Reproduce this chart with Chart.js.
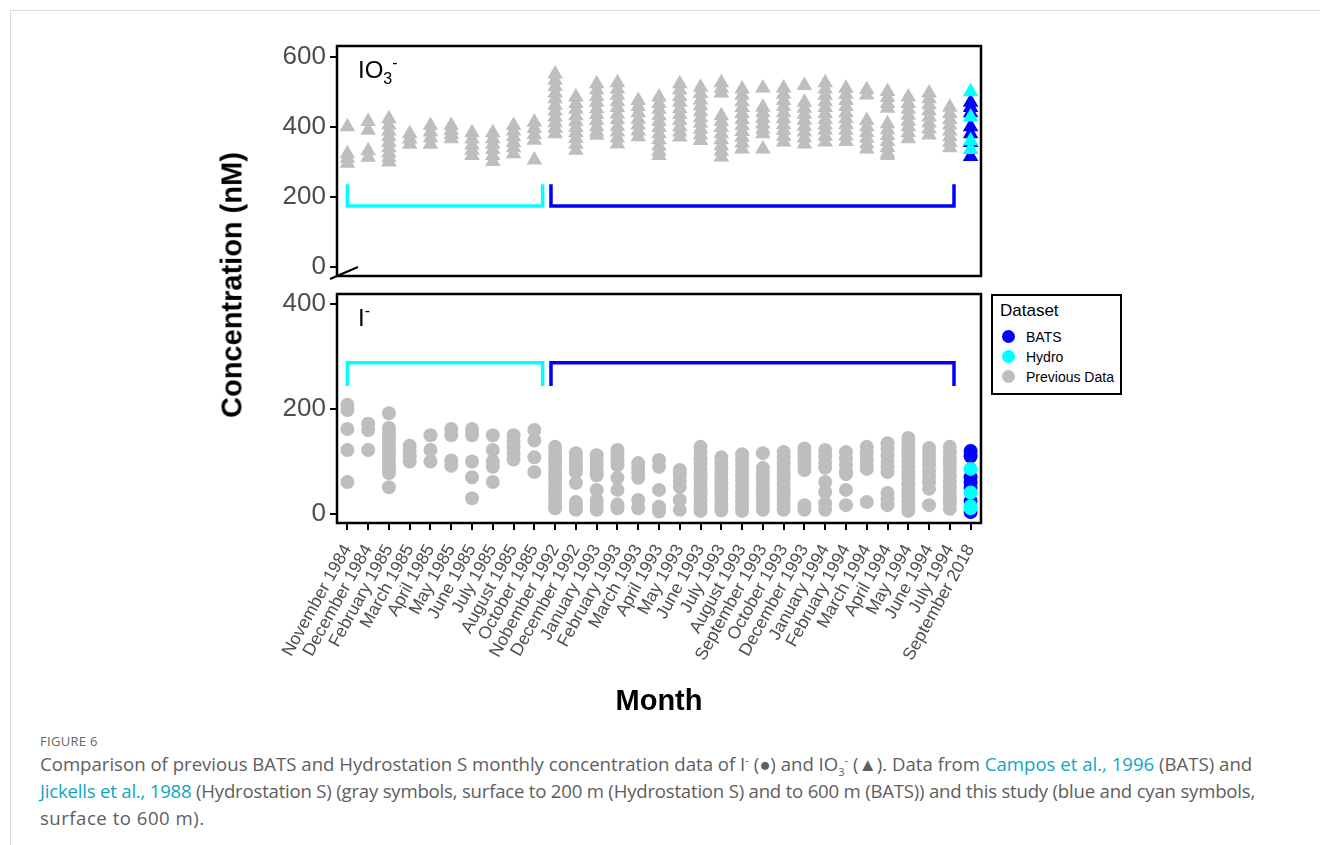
<!DOCTYPE html>
<html>
<head>
<meta charset="utf-8">
<script src="https://cdn.jsdelivr.net/npm/chart.js@4.4.1/dist/chart.umd.min.js"></script>
<style>
  html, body { margin: 0; padding: 0; background: #fff; }
  body { width: 1320px; height: 845px; position: relative; overflow: hidden; font-family: "Liberation Sans", Arial, sans-serif; }
  .abs { position: absolute; }
  #frame { left: 10px; top: 10px; width: 1320px; height: 845px; border-top: 1px solid #dcdcdc; border-left: 1px solid #dcdcdc; }
  #ytitle { left: 232px; top: 285px; transform: translate(-50%, -50%) rotate(-90deg); white-space: nowrap; font-weight: bold; font-size: 29px; color: #000; }
  #xtitle { left: 659px; top: 700px; transform: translate(-50%, -50%); white-space: nowrap; font-weight: bold; font-size: 29px; color: #000; }
  .plab { font-size: 24px; color: #000; line-height: 26px; white-space: nowrap; }
  .plab sub { font-size: 16px; vertical-align: -6px; line-height: 0; }
  .plab sup { font-size: 16px; vertical-align: 10px; line-height: 0; }
  #legend { left: 991px; top: 294px; width: 127px; height: 97px; border: 2px solid #000; background: #fff; }
  #legend .ttl { position: absolute; left: 7px; top: 5px; font-size: 17px; line-height: 20px; color: #000; }
  #legend .it { position: absolute; left: 33px; font-size: 14px; line-height: 20px; color: #000; white-space: nowrap; }
  #legend .dot { position: absolute; left: 9px; width: 13px; height: 13px; border-radius: 50%; }
  #caption { left: 40px; top: 730px; width: 1270px; font-family: "Open Sans", "Noto Sans", sans-serif; color: #5e5e5e; }
  #caption .fig { font-size: 13px; letter-spacing: 0.3px; line-height: 22px; color: #666; }
  #caption .txt { font-size: 18.6px; line-height: 27px; margin-top: -2px; white-space: nowrap; }
  #caption .l2 { letter-spacing: -0.21px; }
  #caption .l3 { letter-spacing: 0.5px; }
  #caption a { color: #10a5c4; text-decoration: none; }
  #caption sup, #caption sub { font-size: 11px; line-height: 0; }
</style>
</head>
<body>
<div id="frame" class="abs"></div>
<div class="abs" style="left:0;top:0;width:1320px;height:310px;"><canvas id="c1"></canvas></div>
<div class="abs" style="left:0;top:250px;width:1320px;height:470px;"><canvas id="c2"></canvas></div>

<div id="ytitle" class="abs">Concentration (nM)</div>
<div id="xtitle" class="abs">Month</div>
<div class="abs plab" style="left:358px;top:57px;">IO<sub>3</sub><sup>-</sup></div>
<div class="abs plab" style="left:358px;top:305px;">I<sup>-</sup></div>

<div id="legend" class="abs">
  <div class="ttl">Dataset</div>
  <div class="dot" style="top:34px;background:#0000ff;"></div><div class="it" style="top:31px;">BATS</div>
  <div class="dot" style="top:54px;background:#00ffff;"></div><div class="it" style="top:51px;">Hydro</div>
  <div class="dot" style="top:74px;background:#bebebe;"></div><div class="it" style="top:71px;">Previous Data</div>
</div>

<div id="caption" class="abs">
  <div class="fig">FIGURE 6</div>
  <div class="txt">Comparison of previous BATS and Hydrostation S monthly concentration data of I<sup>-</sup> (●) and IO<sub>3</sub><sup>-</sup> (▲). Data from <a>Campos et al., 1996</a> (BATS) and<br><span class="l2"><a>Jickells et al., 1988</a> (Hydrostation S) (gray symbols, surface to 200 m (Hydrostation S) and to 600 m (BATS)) and this study (blue and cyan symbols,</span><br><span class="l3">surface to 600 m).</span></div>
</div>

<script>
// ---------------- DATA ----------------
const months = ["November 1984", "December 1984", "February 1985", "March 1985", "April 1985", "May 1985",
  "June 1985", "July 1985", "August 1985", "October 1985", "Nobember 1992", "December 1992", "January 1993",
  "February 1993", "March 1993", "April 1993", "May 1993", "June 1993", "July 1993", "August 1993",
  "September 1993", "October 1993", "December 1993", "January 1994", "February 1994", "March 1994",
  "April 1994", "May 1994", "June 1994", "July 1994", "September 2018"];

// Previous data, iodate (IO3-), nM, one list per month (index 0..29)
const prevIodate = [
  [400, 323, 310, 296],
  [415, 390, 332, 313],
  [423, 405, 388, 372, 356, 340, 325, 312, 300],
  [380, 365, 350],
  [404, 385, 368, 350],
  [404, 390, 378, 366],
  [383, 365, 348, 333, 318],
  [383, 366, 350, 335, 318, 301],
  [404, 388, 372, 355, 340, 323],
  [413, 395, 378, 362, 305],
  [551, 533, 515, 497, 480, 462, 445, 428, 412, 396, 380],
  [485, 467, 450, 432, 415, 398, 383, 367, 350, 333],
  [523, 505, 487, 470, 452, 435, 418, 400, 385, 376],
  [526, 508, 490, 472, 455, 437, 420, 402, 385, 368, 351],
  [475, 458, 440, 422, 405, 388, 372],
  [485, 467, 450, 432, 415, 398, 380, 363, 345, 330, 318],
  [523, 505, 487, 470, 452, 435, 418, 400, 385, 371],
  [513, 495, 477, 460, 443, 426, 410, 393, 377, 361],
  [526, 510, 497, 432, 415, 398, 380, 363, 346, 330, 314],
  [508, 490, 472, 455, 438, 421, 404, 387, 370, 354, 337],
  [511, 456, 440, 424, 408, 393, 380, 337],
  [511, 493, 475, 458, 440, 423, 406, 390, 373, 357],
  [518, 470, 453, 436, 419, 402, 385, 368, 351],
  [526, 508, 490, 472, 455, 438, 421, 405, 390, 373, 357],
  [510, 493, 475, 458, 440, 423, 407, 390, 374, 358],
  [507, 491, 418, 400, 384, 368, 352, 337],
  [501, 484, 467, 453, 409, 392, 375, 358, 341, 325, 318],
  [485, 467, 450, 433, 416, 400, 383, 366],
  [497, 480, 463, 446, 428, 411, 394, 377],
  [456, 438, 421, 405, 388, 372, 356, 340]
];

// Previous data, iodide (I-), nM
const prevIodide = [
  [208, 198, 162, 122, 61],
  [172, 160, 122],
  [192, 164, 155, 146, 137, 128, 119, 110, 101, 92, 83, 78, 51],
  [130, 120, 110, 100],
  [150, 122, 100],
  [162, 150, 102, 92],
  [162, 150, 100, 70, 30],
  [150, 122, 100, 90, 61],
  [150, 138, 127, 115, 104],
  [160, 140, 108, 80],
  [128, 118, 108, 98, 88, 78, 68, 58, 48, 38, 28, 18, 11],
  [116, 106, 96, 88, 80, 59, 23, 15, 8],
  [112, 102, 92, 82, 74, 46, 27, 17, 8],
  [122, 112, 102, 93, 69, 46, 18, 11],
  [97, 88, 79, 69, 27, 11],
  [103, 90, 46, 14, 5],
  [84, 74, 63, 52, 27, 8],
  [128, 117, 106, 96, 86, 76, 66, 56, 46, 36, 26, 16, 6],
  [108, 97, 87, 77, 67, 57, 47, 37, 27, 17, 7],
  [114, 104, 94, 84, 74, 64, 54, 44, 34, 24, 14, 6],
  [116, 88, 78, 68, 58, 48, 38, 28, 18, 8],
  [118, 108, 98, 88, 78, 68, 58, 48, 38, 28, 18, 8],
  [125, 115, 105, 95, 84, 17, 8],
  [122, 110, 98, 88, 61, 42, 20, 8],
  [118, 106, 94, 82, 76, 46, 17],
  [128, 116, 104, 94, 86, 23],
  [135, 123, 111, 99, 89, 80, 40, 28, 17],
  [145, 134, 123, 112, 101, 90, 79, 68, 57, 46, 35, 24, 14, 6],
  [126, 115, 104, 93, 82, 71, 60, 48, 17],
  [128, 117, 106, 95, 84, 73, 62, 51, 40, 30, 20, 10]
];

// This study (September 2018, month index 30)
const studyMonth = 30;
const batsIodate = [470, 455, 440, 400, 380, 355, 315];
const hydroIodate = [500, 428, 360, 335];
const batsIodide = [120, 110, 70, 60, 50, 25, 4];
const hydroIodide = [86, 41, 15, 11];

// Bracket annotations in data units [xStart, xEnd, yLeg, yBar]
const brIodateHydro = [0, 9.4, 236, 174];
const brIodateBats = [9.8, 29.2, 236, 174];
const brIodideHydro = [0, 9.4, 244, 288];
const brIodideBats = [9.8, 29.2, 244, 288];

const yTicksTop = [0, 200, 400, 600];
const yTicksBot = [0, 200, 400];

// ---------------- HELPERS ----------------
function toPoints(lists) {
  const pts = [];
  lists.forEach((vals, i) => vals.forEach(v => pts.push({ x: i, y: v })));
  return pts;
}
function single(vals) { return vals.map(v => ({ x: studyMonth, y: v })); }
function bracket(b) {
  return [{ x: b[0], y: b[2] }, { x: b[0], y: b[3] }, { x: b[1], y: b[3] }, { x: b[1], y: b[2] }];
}

const GRAY = '#bebebe', BLUE = '#0000ff', CYAN = '#00ffff';
const TICKCOL = '#4d4d4d';
const FONT = '"Liberation Sans", Arial, sans-serif';

const boxPlugin = {
  id: 'panelBox',
  afterDatasetsDraw(chart) {
    const { ctx, chartArea: a } = chart;
    ctx.save();
    ctx.strokeStyle = '#000';
    ctx.lineWidth = 2.5;
    ctx.strokeRect(a.left, a.top, a.right - a.left, a.bottom - a.top);
    ctx.restore();
  }
};
const breakPlugin = {
  id: 'breakMark',
  afterDraw(chart) {
    const { ctx, chartArea: a } = chart;
    ctx.save();
    ctx.strokeStyle = '#000';
    ctx.lineWidth = 2;
    ctx.beginPath();
    ctx.moveTo(a.left - 7, a.bottom + 3);
    ctx.lineTo(a.left + 21, a.bottom - 9);
    ctx.stroke();
    ctx.restore();
  }
};

function scatterDS(data, color, style, r) {
  return { type: 'scatter', data, pointStyle: style, pointRadius: r, pointHoverRadius: r,
    backgroundColor: color, borderColor: color, borderWidth: 0 };
}
function bracketDS(b, color) {
  return { type: 'scatter', data: bracket(b), showLine: true, pointRadius: 0, borderColor: color,
    borderWidth: 3.5, borderJoinStyle: 'miter', borderCapStyle: 'butt', fill: false };
}

function yAxis(min, max, ticks) {
  return {
    type: 'linear', min, max,
    afterBuildTicks: s => { s.ticks = ticks.map(v => ({ value: v })); },
    afterFit: s => { s.width = 80; },
    grid: { drawOnChartArea: false, drawTicks: true, tickLength: 7, color: '#000', lineWidth: 2 },
    border: { display: false },
    ticks: { color: TICKCOL, font: { family: FONT, size: 26 }, padding: 4 }
  };
}

Chart.defaults.animation = false;

// ---------------- TOP PANEL (IO3-) ----------------
new Chart(document.getElementById('c1'), {
  type: 'scatter',
  data: {
    datasets: [
      scatterDS(single(hydroIodate), CYAN, 'triangle', 9),
      scatterDS(single(batsIodate), BLUE, 'triangle', 9),
      scatterDS(toPoints(prevIodate), GRAY, 'triangle', 9),
      bracketDS(brIodateHydro, CYAN),
      bracketDS(brIodateBats, BLUE)
    ]
  },
  options: {
    responsive: true, maintainAspectRatio: false,
    layout: { padding: { left: 257, top: 46, right: 339, bottom: 34 } },
    plugins: { legend: { display: false }, tooltip: { enabled: false } },
    scales: {
      x: { type: 'linear', min: -0.5, max: 30.5, display: false },
      y: yAxis(-26, 631, yTicksTop)
    }
  },
  plugins: [boxPlugin, breakPlugin]
});

// ---------------- BOTTOM PANEL (I-) ----------------
new Chart(document.getElementById('c2'), {
  type: 'scatter',
  data: {
    datasets: [
      scatterDS(single(hydroIodide), CYAN, 'circle', 7),
      scatterDS(single(batsIodide), BLUE, 'circle', 7),
      scatterDS(toPoints(prevIodide), GRAY, 'circle', 7),
      bracketDS(brIodideHydro, CYAN),
      bracketDS(brIodideBats, BLUE)
    ]
  },
  options: {
    responsive: true, maintainAspectRatio: false,
    layout: { padding: { left: 257, top: 44, right: 339, bottom: 0 } },
    plugins: { legend: { display: false }, tooltip: { enabled: false } },
    scales: {
      x: {
        type: 'linear', min: -0.5, max: 30.5,
        afterBuildTicks: s => { s.ticks = months.map((m, i) => ({ value: i })); },
        afterFit: s => { s.height = 197; },
        grid: { drawOnChartArea: false, drawTicks: true, tickLength: 7, color: '#000', lineWidth: 2 },
        border: { display: false },
        ticks: {
          autoSkip: false, minRotation: 61, maxRotation: 61, padding: 11,
          color: TICKCOL, font: { family: FONT, size: 17.5 },
          callback: v => months[v]
        }
      },
      y: yAxis(-17, 419, yTicksBot)
    }
  },
  plugins: [boxPlugin]
});
</script>
</body>
</html>
